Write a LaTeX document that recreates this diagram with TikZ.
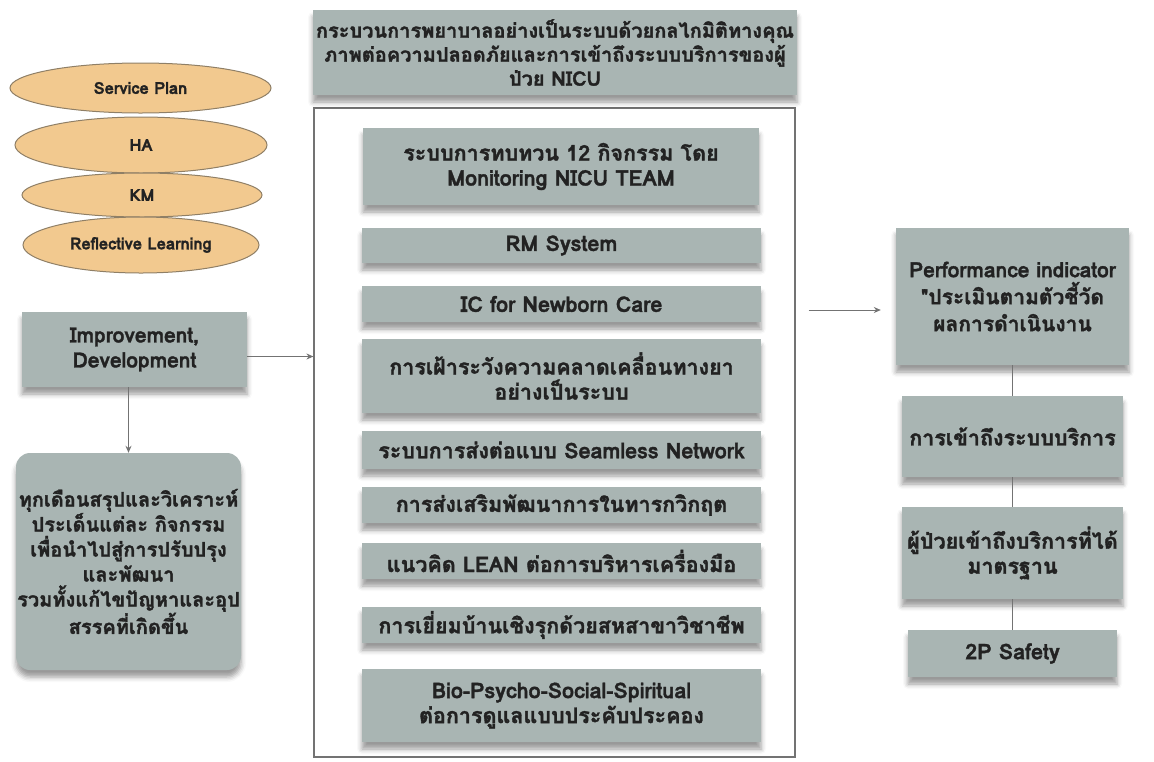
\documentclass[tikz,border=0pt]{standalone}
\usepackage{fontspec}
\newfontfamily\thaifont[Script=Thai,BoldFeatures={FakeBold=1.6}]{Loma}
\usepackage{xcolor}
\usepackage{tikz}
\usetikzlibrary{shapes.geometric}
\usetikzlibrary{shadows.blur}
\usetikzlibrary{arrows.meta}
\definecolor{boxgray}{HTML}{A9B5B3}
\definecolor{inkgray}{HTML}{222222}
\definecolor{linegray}{HTML}{737373}
\definecolor{ovalfill}{HTML}{F2C98F}
\definecolor{ovaledge}{HTML}{8F7F66}
\tikzset{
box/.style={
  rectangle,
  fill=boxgray,
  text=inkgray,
  align=center,
  inner sep=0pt,
  font=\thaifont\bfseries\fontsize{21.5}{25}\selectfont,
  blur shadow={shadow xshift=0pt,shadow yshift=-7pt,shadow scale=1,
    shadow blur radius=5pt,shadow opacity=40}
},
oval/.style={
  ellipse,
  fill=ovalfill,
  draw=ovaledge,
  line width=1pt,
  text=inkgray,
  inner sep=0pt,
  font=\thaifont\bfseries\fontsize{16.5}{18}\selectfont
},
link/.style={draw=linegray,line width=1pt},
arrow/.style={link,-{Stealth[length=7pt,width=6pt]}}
}

\begin{document}
\begin{tikzpicture}[x=1pt,y=-1pt]
\useasboundingbox (0,0) rectangle (1154,761);
% the frame round the middle column
\node[draw=linegray,line width=1.2pt,rectangle,minimum width=481pt,minimum height=649pt,
  inner sep=0pt] (frame) at (554.5,432.5) {};
% the title
\node[box,minimum width=484pt,minimum height=85pt,font=\thaifont\bfseries\fontsize{20}{24}\selectfont]
  (title) at (555,52.5)
  {กระบวนการพยาบาลอย่างเป็นระบบด้วยกลไกมิติทางคุณ\\ภาพต่อความปลอดภัยและการเข้าถึงระบบบริการของผู้\\ป่วย NICU};
% the ovals
\node[oval,minimum width=261pt,minimum height=50pt] (plan) at (140.5,88) {Service Plan};
\node[oval,minimum width=252pt,minimum height=56pt] (ha) at (141,145) {HA};
\node[oval,minimum width=240pt,minimum height=44pt] (km) at (142,195) {KM};
\node[oval,minimum width=236pt,minimum height=56pt] (learn) at (141,245) {Reflective Learning};
% the left column
\node[box,minimum width=225pt,minimum height=75pt,font=\thaifont\bfseries\fontsize{21}{25}\selectfont]
  (improve) at (134.5,349.5) {Improvement,\\Development};
\node[box,rounded corners=14pt,minimum width=225pt,minimum height=217pt,
  font=\thaifont\bfseries\fontsize{20}{25}\selectfont] (monthly) at (128.5,561.5)
  {ทุกเดือนสรุปและวิเคราะห์\\ประเด็นแต่ละ กิจกรรม\\เพื่อนำไปสู่การปรับปรุง\\และพัฒนา\\รวมทั้งแก้ไขปัญหาและอุป\\สรรคที่เกิดขึ้น};
% the middle column
\node[box,minimum width=396pt,minimum height=77pt] (review) at (561,166.5)
  {ระบบการทบทวน 12 กิจกรรม โดย\\Monitoring NICU TEAM};
\node[box,minimum width=399pt,minimum height=35pt] (rm) at (561.5,245.5) {RM System};
\node[box,minimum width=399pt,minimum height=36pt] (ic) at (561.5,304) {IC for Newborn Care};
\node[box,minimum width=399pt,minimum height=74pt] (drug) at (561.5,376)
  {การเฝ้าระวังความคลาดเคลื่อนทางยา\\อย่างเป็นระบบ};
\node[box,minimum width=399pt,minimum height=38pt] (refer) at (561.5,450)
  {ระบบการส่งต่อแบบ Seamless Network};
\node[box,minimum width=399pt,minimum height=36pt] (develop) at (561.5,505)
  {การส่งเสริมพัฒนาการในทารกวิกฤต};
\node[box,minimum width=399pt,minimum height=36pt] (lean) at (561.5,561)
  {แนวคิด LEAN ต่อการบริหารเครื่องมือ};
\node[box,minimum width=399pt,minimum height=36pt] (visit) at (561.5,625)
  {การเยี่ยมบ้านเชิงรุกด้วยสหสาขาวิชาชีพ};
\node[box,minimum width=399pt,minimum height=73pt] (holistic) at (561.5,705.5)
  {Bio-Psycho-Social-Spiritual\\ต่อการดูแลแบบประคับประคอง};
% the right column
\node[box,minimum width=233pt,minimum height=137pt,
  font=\thaifont\bfseries\fontsize{21}{27}\selectfont] (indicator) at (1012.5,296.5)
  {Performance indicator\\"ประเมินตามตัวชี้วัด\\ผลการดำเนินงาน};
\node[box,minimum width=221pt,minimum height=81pt] (access) at (1012.5,436.5)
  {การเข้าถึงระบบบริการ};
\node[box,minimum width=221pt,minimum height=92pt] (standard) at (1012.5,553)
  {ผู้ป่วยเข้าถึงบริการที่ได้\\มาตรฐาน};
\node[box,minimum width=209pt,minimum height=47pt] (safety) at (1012.5,653.5) {2P Safety};
% the arrows
\draw[arrow] ([yshift=-7pt]improve.east) -- ([yshift=-7pt]improve.east -| frame.west);
\draw[arrow] (monthly.north |- improve.south) -- (monthly.north);
\coordinate (out) at ([xshift=13pt,yshift=-13.5pt]frame.east |- indicator.west);
\coordinate (in) at ([xshift=-15pt,yshift=-13.5pt]indicator.west);
\draw[arrow] (out) -- (in);
\foreach \a/\b in {indicator/access,access/standard,standard/safety}
{
  \draw[link] (\a.south) -- (\b.north);
}
\end{tikzpicture}
\end{document}
